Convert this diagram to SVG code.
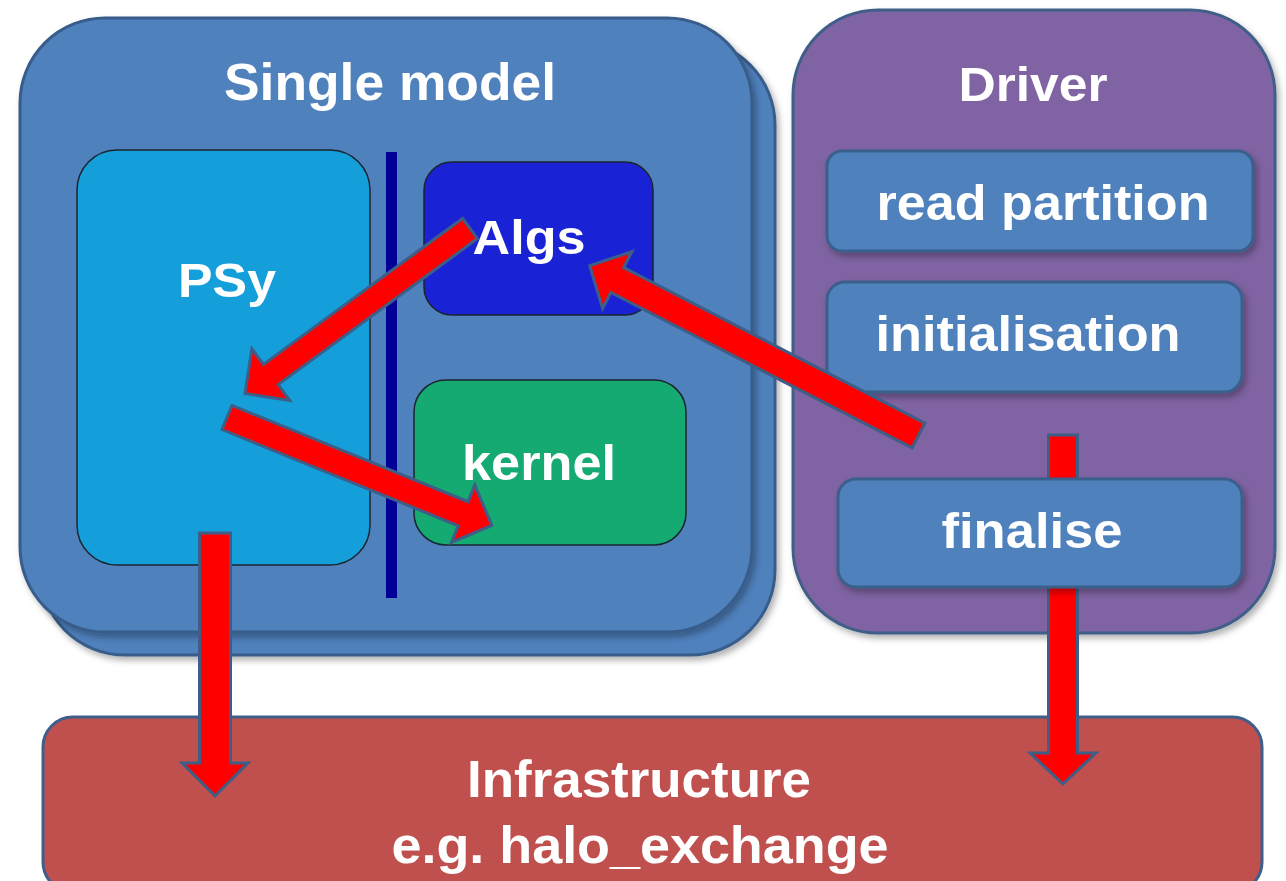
<svg xmlns="http://www.w3.org/2000/svg" width="1286" height="881" viewBox="0 0 1286 881">
  <defs>
    <filter id="shadow" x="-10%" y="-10%" width="130%" height="130%">
      <feDropShadow dx="3" dy="4" stdDeviation="3" flood-color="#000" flood-opacity="0.3"/>
    </filter>
    <style>
      .card { fill: #4F81BD; stroke: #385D8A; stroke-width: 3; }
      .driver { fill: #8064A2; stroke: #3F5E88; stroke-width: 3; }
      .step { fill: #4F81BD; stroke: #3A5F8B; stroke-width: 3; filter: url(#shadow); }
      .inner { stroke: #1B2530; stroke-width: 1.5; }
      .infra { fill: #C0504D; stroke: #3F5E88; stroke-width: 3; }
      .label { font-family: "Liberation Sans", Arial, sans-serif; font-weight: bold; fill: #FFFFFF; text-anchor: middle; }
      .arrow { fill: #FF0000; stroke: #3F5E87; stroke-width: 3; stroke-linejoin: miter; }
    </style>
  </defs>
  <rect width="1286" height="881" fill="#FFFFFF"/>

  <!-- Single model: stacked card with PSy / Algs / kernel -->
  <g id="single-model">
    <rect class="card" x="40" y="40" width="735" height="615" rx="85" filter="url(#shadow)"/>
    <rect class="card" x="20" y="18" width="732" height="614" rx="85" filter="url(#shadow)"/>
    <text class="label" x="390" y="100" font-size="52" textLength="332" lengthAdjust="spacingAndGlyphs">Single model</text>
  </g>
  <g id="psy">
    <rect class="inner" x="77" y="150" width="293" height="415" rx="40" fill="#149FDB"/>
    <text class="label" x="227" y="297" font-size="49" textLength="98" lengthAdjust="spacingAndGlyphs">PSy</text>
  </g>
  <g id="divider">
    <rect x="386" y="152" width="11" height="446" fill="#000099"/>
  </g>
  <g id="algs">
    <rect class="inner" x="424" y="162" width="229" height="153" rx="28" fill="#1A22D5"/>
    <text class="label" x="529" y="254" font-size="48" textLength="113" lengthAdjust="spacingAndGlyphs">Algs</text>
  </g>
  <g id="kernel">
    <rect class="inner" x="414" y="380" width="272" height="165" rx="32" fill="#14AA72"/>
    <text class="label" x="539" y="480" font-size="50" textLength="154" lengthAdjust="spacingAndGlyphs">kernel</text>
  </g>

  <!-- Driver -->
  <g id="driver">
    <rect class="driver" x="793" y="10" width="482" height="623" rx="85" filter="url(#shadow)"/>
    <text class="label" x="1033" y="101" font-size="49" textLength="149" lengthAdjust="spacingAndGlyphs">Driver</text>
  </g>
  <g id="read-partition">
    <rect class="step" x="827" y="151" width="426" height="100" rx="15"/>
    <text class="label" x="1043" y="220" font-size="50" textLength="333" lengthAdjust="spacingAndGlyphs">read partition</text>
  </g>
  <g id="initialisation">
    <rect class="step" x="827" y="282" width="415" height="110" rx="18"/>
    <text class="label" x="1028" y="351" font-size="50" textLength="305" lengthAdjust="spacingAndGlyphs">initialisation</text>
  </g>

  <!-- Infrastructure -->
  <g id="infrastructure">
    <rect class="infra" x="43" y="717" width="1219" height="175" rx="30"/>
    <text class="label" x="639" y="797" font-size="52" textLength="344" lengthAdjust="spacingAndGlyphs">Infrastructure</text>
    <text class="label" x="640" y="863" font-size="52" textLength="497" lengthAdjust="spacingAndGlyphs">e.g. halo_exchange</text>
  </g>

  <!-- Block arrows: each drawn along +x, then placed by translate/rotate -->
  <g id="connectors">
    <!-- Algs -> PSy -->
    <polygon class="arrow" transform="translate(470,228.5) rotate(143.75)" points="0,-12.5 247,-12.5 247,-32 279,0 247,32 247,12.5 0,12.5"/>
    <!-- PSy -> kernel -->
    <polygon class="arrow" transform="translate(227,417.5) rotate(22.17)" points="0,-13 255,-13 255,-31 286,0 255,31 255,13 0,13"/>
    <!-- Driver -> Algs -->
    <polygon class="arrow" transform="translate(918.5,435.5) rotate(207.3)" points="0,-14 339,-14 339,-32 370,0 339,32 339,14 0,14"/>
    <!-- PSy -> Infrastructure -->
    <polygon class="arrow" transform="translate(215,533) rotate(90)" points="0,-15.5 230,-15.5 230,-33 263,0 230,33 230,15.5 0,15.5"/>
    <!-- Driver -> Infrastructure -->
    <polygon class="arrow" transform="translate(1063,435) rotate(90)" points="0,-14.5 318,-14.5 318,-33 349,0 318,33 318,14.5 0,14.5"/>
  </g>

  <g id="finalise">
    <rect class="step" x="838" y="479" width="404" height="108" rx="18"/>
    <text class="label" x="1032" y="548" font-size="50" textLength="181" lengthAdjust="spacingAndGlyphs">finalise</text>
  </g>
</svg>
